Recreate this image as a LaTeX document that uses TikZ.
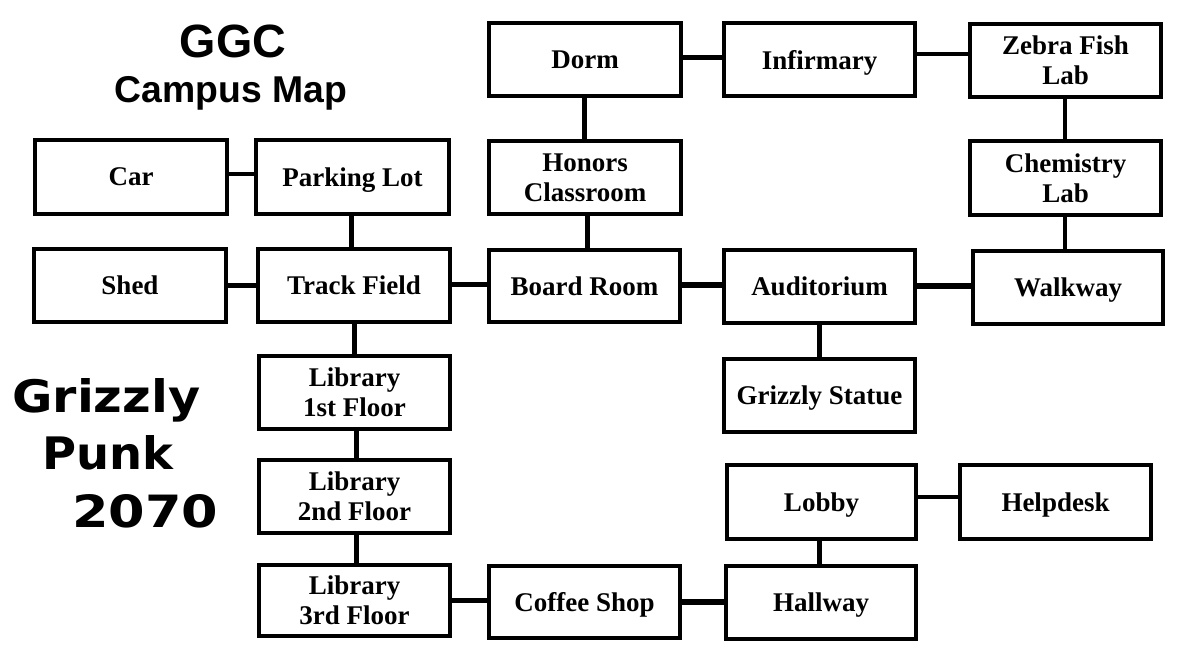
\documentclass[tikz,border=0pt]{standalone}
\usepackage{fontspec}
\setmainfont{Liberation Serif}
\newfontfamily\arialf{Liberation Sans}
\newfontfamily\techf{DejaVu Sans}
\begin{document}
\begin{tikzpicture}[x=0.75pt,y=-0.75pt,
  room/.style={draw=black, line width=3pt, inner sep=0pt, align=center,
    text depth=0pt, font=\bfseries\fontsize{20.25}{22.5}\selectfont},
  link/.style={line width=3.75pt, draw=black},
  thinlink/.style={line width=3pt, draw=black},
  thicklink/.style={line width=4.5pt, draw=black},
  titletext/.style={inner sep=0pt, anchor=base},
  punktext/.style={inner sep=0pt, anchor=base west}]
\useasboundingbox (0,0) rectangle (1194,665);
\newcommand\placebox[6]{%
  \pgfmathsetmacro\cx{(#2+#4)/2}\pgfmathsetmacro\cy{(#3+#5)/2}%
  \pgfmathsetmacro\bw{(#4-#2-4)*0.75}\pgfmathsetmacro\bh{(#5-#3-4)*0.75}%
  \node[room, minimum width=\bw pt, minimum height=\bh pt] (#1) at (\cx,\cy) {#6};}
\placebox{dorm}{487}{21}{683}{98}{Dorm}
\placebox{infirm}{722}{21}{917}{98}{Infirmary}
\placebox{zebra}{968}{22}{1163}{99}{Zebra Fish\\Lab}
\placebox{car}{33}{138}{229}{216}{Car}
\placebox{parking}{254}{138}{451}{216}{Parking Lot}
\placebox{honors}{487}{139}{683}{216}{Honors\\Classroom}
\placebox{chem}{968}{139}{1163}{217}{Chemistry\\Lab}
\placebox{shed}{32}{247}{228}{324}{Shed}
\placebox{track}{256}{247}{452}{324}{Track Field}
\placebox{board}{487}{248}{682}{324}{Board Room}
\placebox{aud}{722}{248}{917}{325}{Auditorium}
\placebox{walk}{971}{249}{1165}{326}{Walkway}
\placebox{lib1}{257}{354}{452}{431}{Library\\1st Floor}
\placebox{statue}{722}{357}{917}{434}{Grizzly Statue}
\placebox{lib2}{257}{458}{452}{535}{Library\\2nd Floor}
\placebox{lobby}{725}{463}{918}{541}{Lobby}
\placebox{help}{958}{463}{1153}{541}{Helpdesk}
\placebox{lib3}{257}{563}{452}{638}{Library\\3rd Floor}
\placebox{coffee}{487}{564}{682}{640}{Coffee Shop}
\placebox{hall}{724}{564}{918}{641}{Hallway}
% connectors
\draw[link] (dorm.east |- 0,57) -- (infirm.west |- 0,57);
\draw[thinlink] (infirm.east |- 0,54) -- (zebra.west |- 0,54);
\draw[thinlink] (car.east |- 0,174) -- (parking.west |- 0,174);
\draw[link] (parking.south -| 351,0) -- (track.north -| 351,0);
\draw[link] (dorm.south -| 584,0) -- (honors.north -| 584,0);
\draw[link] (honors.south -| 587,0) -- (board.north -| 587,0);
\draw[thinlink] (zebra.south -| 1065,0) -- (chem.north -| 1065,0);
\draw[thinlink] (chem.south -| 1065,0) -- (walk.north -| 1065,0);
\draw[link] (shed.east |- 0,285) -- (track.west |- 0,285);
\draw[link] (track.east |- 0,284) -- (board.west |- 0,284);
\draw[thicklink] (board.east |- 0,285) -- (aud.west |- 0,285);
\draw[thicklink] (aud.east |- 0,286) -- (walk.west |- 0,286);
\draw[link] (track.south -| 354,0) -- (lib1.north -| 354,0);
\draw[link] (aud.south -| 819,0) -- (statue.north -| 819,0);
\draw[link] (lib1.south -| 356,0) -- (lib2.north -| 356,0);
\draw[link] (lib2.south -| 356,0) -- (lib3.north -| 356,0);
\draw[thinlink] (lobby.east |- 0,497) -- (help.west |- 0,497);
\draw[link] (lobby.south -| 819,0) -- (hall.north -| 819,0);
\draw[link] (lib3.east |- 0,600) -- (coffee.west |- 0,600);
\draw[thicklink] (coffee.east |- 0,602) -- (hall.west |- 0,602);
% titles
\node[titletext, font=\arialf\bfseries\fontsize{35}{40}\selectfont] (ggc) at (233,57) {GGC};
\node[titletext, font=\arialf\bfseries\fontsize{28}{32}\selectfont] (cmap) at (231,102) {Campus Map};
\node[punktext] (grizzly) at (12,412) {\techf\bfseries\resizebox{141pt}{25.5pt}{Grizzly}};
\node[punktext] (punk) at (42,469) {\techf\bfseries\resizebox{98.25pt}{25.5pt}{Punk}};
\node[punktext] (year) at (72,527) {\techf\bfseries\resizebox{109.5pt}{24.75pt}{2070}};
\end{tikzpicture}
\end{document}
